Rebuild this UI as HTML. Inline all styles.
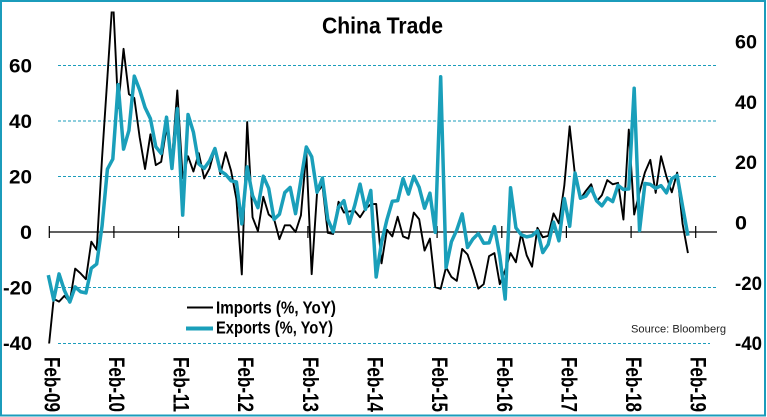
<!DOCTYPE html>
<html>
<head>
<meta charset="utf-8">
<style>
html,body{margin:0;padding:0;background:#fff;}
svg{display:block;}
text{font-family:"Liberation Sans",Arial,sans-serif;fill:#000;}
.ax{font-size:19px;font-weight:bold;}
.xl{font-size:22px;font-weight:bold;}
</style>
</head>
<body>
<svg width="767" height="417" viewBox="0 0 767 417" xmlns="http://www.w3.org/2000/svg">
<rect x="0" y="0" width="767" height="417" fill="#fff"/>
<defs>
<clipPath id="pa"><rect x="40" y="11.5" width="690" height="332"/></clipPath>
</defs>

<!-- title -->
<text x="322" y="33.3" font-size="23" font-weight="bold" textLength="121" lengthAdjust="spacingAndGlyphs">China Trade</text>

<!-- gridlines -->
<g stroke="#1b9cbb" stroke-width="1" stroke-dasharray="3,2" fill="none">
<line x1="58" y1="65.5" x2="717" y2="65.5"/>
<line x1="58" y1="121" x2="717" y2="121"/>
<line x1="58" y1="176.5" x2="717" y2="176.5"/>
<line x1="58" y1="287.5" x2="717" y2="287.5"/>
<line x1="58" y1="343.5" x2="710" y2="343.5"/>
</g>

<!-- x axis -->
<g stroke="#000" stroke-width="1.2" fill="none">
<line x1="49" y1="232" x2="717" y2="232"/>
<line x1="49.3" y1="226" x2="49.3" y2="238"/>
<line x1="113.9" y1="226" x2="113.9" y2="238"/>
<line x1="178.6" y1="226" x2="178.6" y2="238"/>
<line x1="243.2" y1="226" x2="243.2" y2="238"/>
<line x1="307.9" y1="226" x2="307.9" y2="238"/>
<line x1="372.5" y1="226" x2="372.5" y2="238"/>
<line x1="437.1" y1="226" x2="437.1" y2="238"/>
<line x1="501.8" y1="226" x2="501.8" y2="238"/>
<line x1="566.4" y1="226" x2="566.4" y2="238"/>
<line x1="631.1" y1="226" x2="631.1" y2="238"/>
<line x1="695.7" y1="226" x2="695.7" y2="238"/>
</g>

<!-- series -->
<g clip-path="url(#pa)">
<polyline fill="none" stroke="#000" stroke-width="1.9" stroke-linejoin="round" vector-effect="non-scaling-stroke"
transform="translate(48.3 232) scale(5.375 -2.775)"
points="0,-43.1 1,-24.1 2,-25.1 3,-23 4,-25.2 5,-13.2 6,-14.9 7,-17 8,-3.5 9,-6.4 10,26.7 11,55.9 12,85.5 13,44.7 14,66 15,49.7 16,48.3 17,34.1 18,22.7 19,35.2 20,24.1 21,25.3 22,37.7 23,25.6 24,51 25,19.4 26,27.3 27,21.8 28,28.4 29,19.3 30,22.9 31,30.2 32,20.9 33,28.7 34,22.1 35,11.8 36,-15.3 37,39.6 38,5.3 39,0.3 40,12.7 41,6.3 42,4.7 43,-2.6 44,2.4 45,2.4 46,0 47,6 48,28.8 49,-15.2 50,14.1 51,16.8 52,-0.3 53,-0.7 54,10.9 55,7 56,7.4 57,7.6 58,5.3 59,8.3 60,10 61,10.1 62,-11.3 63,0.8 64,-1.6 65,5.5 66,-1.6 67,-2.4 68,7 69,4.6 70,-6.7 71,-2.4 72,-19.9 73,-20.5 74,-12.7 75,-16.2 76,-17.6 77,-6.1 78,-8.1 79,-13.8 80,-20.4 81,-18.8 82,-8.7 83,-7.6 84,-18.8 85,-13.8 86,-7.6 87,-10.9 88,-0.4 89,-8.4 90,-12.5 91,1.5 92,-1.9 93,-1.4 94,6.7 95,3.1 96,16.7 97,38.1 98,20.3 99,11.9 100,14.8 101,17.2 102,11 103,13.3 104,18.7 105,17.2 106,17.7 107,4.5 108,36.9 109,6.3 110,14.4 111,21.5 112,26 113,14.1 114,27.3 115,20 116,14.3 117,21.4 118,3 119,-7.6"/>
<polyline fill="none" stroke="#1a9fba" stroke-width="3.5" stroke-linejoin="round" vector-effect="non-scaling-stroke"
transform="translate(48.3 222.4) scale(5.375 -3.015)"
points="0,-17.5 1,-25.7 2,-17.1 3,-22.6 4,-26.4 5,-21.4 6,-23 7,-23.4 8,-15.2 9,-13.8 10,-1.2 11,17.7 12,21 13,45.7 14,24.3 15,30.5 16,48.5 17,43.9 18,38.1 19,34.4 20,25.1 21,22.9 22,34.9 23,17.9 24,37.7 25,2.4 26,35.8 27,29.9 28,19.4 29,17.9 30,20.4 31,24.5 32,17.1 33,15.9 34,13.8 35,13.4 36,-0.5 37,18.4 38,8.9 39,4.9 40,15.3 41,11.3 42,1 43,2.7 44,9.9 45,11.6 46,2.9 47,14.1 48,25 49,21.8 50,10 51,14.7 52,1 53,-3.1 54,5.1 55,7.2 56,-0.3 57,5.6 58,12.7 59,4.3 60,10.6 61,-18.1 62,-6.6 63,0.9 64,7 65,7.2 66,14.5 67,9.4 68,15.3 69,11.6 70,4.7 71,9.7 72,-3.3 73,48.3 74,-15 75,-6.4 76,-2.5 77,2.8 78,-8.3 79,-5.5 80,-3.7 81,-6.9 82,-6.8 83,-1.4 84,-11.2 85,-25.4 86,11.5 87,-1.8 88,-4.1 89,-4.8 90,-4.4 91,-2.8 92,-10 93,-7.3 94,0.1 95,-6.1 96,7.9 97,-1.3 98,16.4 99,8 100,8.7 101,11.3 102,7.2 103,5.5 104,8.1 105,6.9 106,12.3 107,10.9 108,11.1 109,44.5 110,-2.7 111,12.9 112,12.6 113,11.3 114,12.2 115,9.8 116,14.5 117,15.6 118,5.4 119,-4.4"/>
</g>

<!-- left axis labels -->
<g class="ax" text-anchor="end">
<text class="ax" x="32" y="72.3" text-anchor="end" textLength="23" lengthAdjust="spacingAndGlyphs">60</text>
<text class="ax" x="32" y="127.8" text-anchor="end" textLength="23" lengthAdjust="spacingAndGlyphs">40</text>
<text class="ax" x="32" y="183.3" text-anchor="end" textLength="23" lengthAdjust="spacingAndGlyphs">20</text>
<text class="ax" x="32" y="238.8" text-anchor="end" textLength="12" lengthAdjust="spacingAndGlyphs">0</text>
<text class="ax" x="32" y="294.3" text-anchor="end" textLength="29" lengthAdjust="spacingAndGlyphs">-20</text>
<text class="ax" x="32" y="349.8" text-anchor="end" textLength="29" lengthAdjust="spacingAndGlyphs">-40</text>
</g>

<!-- right axis labels -->
<text class="ax" x="735" y="48.6" textLength="22" lengthAdjust="spacingAndGlyphs">60</text>
<text class="ax" x="735" y="108.9" textLength="22" lengthAdjust="spacingAndGlyphs">40</text>
<text class="ax" x="735" y="169.2" textLength="22" lengthAdjust="spacingAndGlyphs">20</text>
<text class="ax" x="735" y="229.5" textLength="12" lengthAdjust="spacingAndGlyphs">0</text>
<text class="ax" x="735" y="289.8" textLength="27" lengthAdjust="spacingAndGlyphs">-20</text>
<text class="ax" x="735" y="350.1" textLength="27" lengthAdjust="spacingAndGlyphs">-40</text>

<!-- x labels -->
<g>
<text class="xl" transform="translate(44.3 357) rotate(90)" textLength="55" lengthAdjust="spacingAndGlyphs">Feb-09</text>
<text class="xl" transform="translate(108.9 357) rotate(90)" textLength="55" lengthAdjust="spacingAndGlyphs">Feb-10</text>
<text class="xl" transform="translate(173.6 357) rotate(90)" textLength="55" lengthAdjust="spacingAndGlyphs">Feb-11</text>
<text class="xl" transform="translate(238.2 357) rotate(90)" textLength="55" lengthAdjust="spacingAndGlyphs">Feb-12</text>
<text class="xl" transform="translate(302.9 357) rotate(90)" textLength="55" lengthAdjust="spacingAndGlyphs">Feb-13</text>
<text class="xl" transform="translate(367.5 357) rotate(90)" textLength="55" lengthAdjust="spacingAndGlyphs">Feb-14</text>
<text class="xl" transform="translate(432.1 357) rotate(90)" textLength="55" lengthAdjust="spacingAndGlyphs">Feb-15</text>
<text class="xl" transform="translate(496.8 357) rotate(90)" textLength="55" lengthAdjust="spacingAndGlyphs">Feb-16</text>
<text class="xl" transform="translate(561.4 357) rotate(90)" textLength="55" lengthAdjust="spacingAndGlyphs">Feb-17</text>
<text class="xl" transform="translate(626.1 357) rotate(90)" textLength="55" lengthAdjust="spacingAndGlyphs">Feb-18</text>
<text class="xl" transform="translate(690.7 357) rotate(90)" textLength="55" lengthAdjust="spacingAndGlyphs">Feb-19</text>
</g>

<!-- legend -->
<line x1="187" y1="307.5" x2="213" y2="307.5" stroke="#000" stroke-width="2"/>
<line x1="186" y1="328.5" x2="213" y2="328.5" stroke="#1a9fba" stroke-width="4"/>
<text x="216" y="313.3" font-size="17.5" font-weight="bold" textLength="120" lengthAdjust="spacingAndGlyphs">Imports (%, YoY)</text>
<text x="216" y="333.5" font-size="17.5" font-weight="bold" textLength="117" lengthAdjust="spacingAndGlyphs">Exports (%, YoY)</text>

<!-- source -->
<text x="631" y="332.5" font-size="11" style="fill:#222" textLength="95" lengthAdjust="spacingAndGlyphs">Source: Bloomberg</text>

<!-- border -->
<rect x="1" y="1" width="764" height="414.5" fill="none" stroke="#1b9cbb" stroke-width="2"/>
</svg>
</body>
</html>
